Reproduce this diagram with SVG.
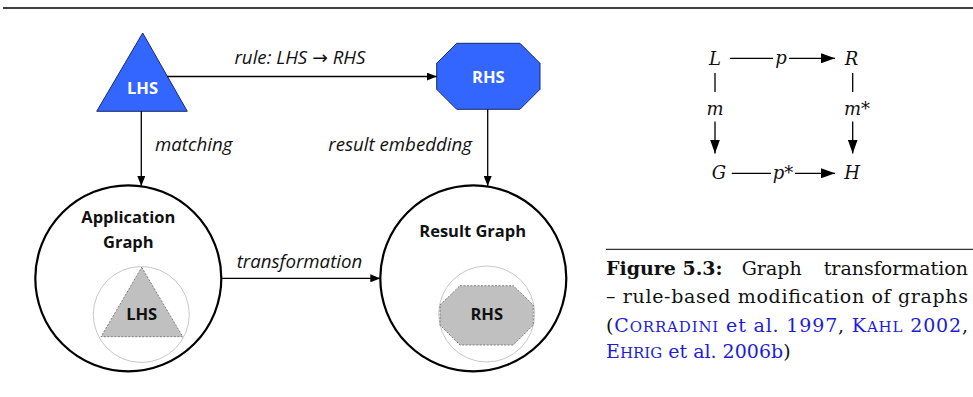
<svg xmlns="http://www.w3.org/2000/svg" width="973" height="397" viewBox="0 0 973 397">
<defs>
<style>
.edge{stroke:#000;stroke-width:1.3;fill:none}
.lbl{font-family:"Open Sans","Noto Sans",sans-serif;font-style:italic;font-size:18.7px;fill:#111}
.arr{font-family:"DejaVu Sans",sans-serif;font-style:normal}
.wb{font-family:"Open Sans","Noto Sans",sans-serif;font-weight:bold;font-size:16.5px;fill:#fff}
.bb{font-family:"Open Sans","Noto Sans",sans-serif;font-weight:bold;font-size:16.5px;fill:#111}
.blue{fill:#3366ff;stroke:#1a2a66;stroke-width:1}
.gray{fill:#c0c0c0;stroke:#666;stroke-width:0.8;stroke-dasharray:2 1.5}
.big{fill:#fff;stroke:#000;stroke-width:2.2}
.ring{fill:none;stroke:#c8c8c8;stroke-width:1}
.math{font-family:"DejaVu Serif","Liberation Serif",serif;font-style:italic;font-size:18px;fill:#111}
.cap{font-family:"DejaVu Serif","Liberation Serif",serif;font-size:19px;fill:#111}
.sc{font-size:15px}
.cite{fill:#1c1cd9}
</style>
<marker id="ah" viewBox="0 0 10 8" refX="10" refY="4" markerWidth="10" markerHeight="8" markerUnits="userSpaceOnUse" orient="auto">
<path d="M0,0 L10,4 L0,8 Z" fill="#000"/>
</marker>
<marker id="mh" viewBox="0 0 14 10" refX="14" refY="5" markerWidth="14" markerHeight="10" markerUnits="userSpaceOnUse" orient="auto">
<path d="M0,0 L14,5 L0,10 Z" fill="#000"/>
</marker>
</defs>

<line x1="3" y1="8" x2="973" y2="8" stroke="#000" stroke-width="1.4"/>

<g id="lhs">
<polygon class="blue" points="142.7,33 187.3,111.3 96.7,111.3"/>
<text class="wb" x="142.5" y="93.5" text-anchor="middle">LHS</text>
</g>

<g id="rhs">
<polygon class="blue" points="456.7,43.3 520,43.3 540,63.3 540,89.3 520,109.3 456.7,109.3 436.7,89.3 436.7,63.3"/>
<text class="wb" x="488.3" y="82.5" text-anchor="middle">RHS</text>
</g>

<g id="application-graph">
<circle class="big" cx="128.3" cy="278.3" r="93"/>
<text class="bb" x="128.3" y="223" text-anchor="middle">Application</text>
<text class="bb" x="128.3" y="248" text-anchor="middle">Graph</text>
<circle class="ring" cx="141.3" cy="314.5" r="48"/>
<polygon class="gray" points="141.7,267.3 182.7,336.7 101,336.7"/>
<text class="bb" x="141.7" y="320" text-anchor="middle">LHS</text>
</g>

<g id="result-graph">
<circle class="big" cx="473.3" cy="278.3" r="93"/>
<text class="bb" x="472.7" y="236.5" text-anchor="middle">Result Graph</text>
<circle class="ring" cx="486.7" cy="314" r="48"/>
<polygon class="gray" points="460,285.7 513.3,285.7 533.3,305 533.3,325 513.3,345 460,345 440,325 440,305"/>
<text class="bb" x="486.7" y="320" text-anchor="middle">RHS</text>
</g>

<g id="connectors">
<line class="edge" x1="167" y1="76.5" x2="436.7" y2="76.5" marker-end="url(#ah)"/>
<line class="edge" x1="141.3" y1="111.3" x2="141.3" y2="186" marker-end="url(#ah)"/>
<line class="edge" x1="487.7" y1="109.3" x2="487.7" y2="186" marker-end="url(#ah)"/>
<line class="edge" x1="221.5" y1="278.3" x2="380.3" y2="278.3" marker-end="url(#ah)"/>
<text class="lbl" x="300" y="64" text-anchor="middle">rule: LHS <tspan class="arr">→</tspan> RHS</text>
<text class="lbl" x="155" y="150.5">matching</text>
<text class="lbl" x="472" y="150.5" text-anchor="end">result embedding</text>
<text class="lbl" x="299.5" y="268" text-anchor="middle">transformation</text>
</g>

<g id="math-square">
<text class="math" x="715" y="65" text-anchor="middle">L</text>
<text class="math" x="851.5" y="65" text-anchor="middle">R</text>
<text class="math" x="719" y="178.5" text-anchor="middle">G</text>
<text class="math" x="852" y="178.5" text-anchor="middle">H</text>
<line class="edge" x1="730" y1="58.3" x2="773" y2="58.3"/>
<text class="math" x="781" y="63.5" text-anchor="middle">p</text>
<line class="edge" x1="789" y1="58.3" x2="835" y2="58.3" marker-end="url(#mh)"/>
<line class="edge" x1="715" y1="73" x2="715" y2="92"/>
<text class="math" x="715" y="114.5" text-anchor="middle">m</text>
<line class="edge" x1="715" y1="121.5" x2="715" y2="153.5" marker-end="url(#mh)"/>
<line class="edge" x1="852.7" y1="73" x2="852.7" y2="92"/>
<text class="math" x="857" y="114.5" text-anchor="middle">m*</text>
<line class="edge" x1="852.7" y1="121.5" x2="852.7" y2="153.5" marker-end="url(#mh)"/>
<line class="edge" x1="731.7" y1="173.3" x2="771" y2="173.3"/>
<text class="math" x="783" y="178.5" text-anchor="middle">p*</text>
<line class="edge" x1="795" y1="173.3" x2="835" y2="173.3" marker-end="url(#mh)"/>
</g>

<g id="caption">
<line x1="606" y1="249.3" x2="973" y2="249.3" stroke="#000" stroke-width="1"/>
<text class="cap" x="606" y="275" font-weight="bold" font-size="17.5px">Figure 5.3:</text>
<text class="cap" x="741.7" y="275">Graph</text>
<text class="cap" x="968" y="275" text-anchor="end">transformation</text>
<text class="cap" x="606" y="303.3" textLength="362" lengthAdjust="spacing">– rule-based modification of graphs</text>
<text class="cap" x="606" y="331.7" textLength="362" lengthAdjust="spacing">(<tspan class="cite">C<tspan class="sc">ORRADINI</tspan> et al. 1997</tspan>, <tspan class="cite">K<tspan class="sc">AHL</tspan> 2002</tspan>,</text>
<text class="cap" x="606" y="358"><tspan class="cite">E<tspan class="sc">HRIG</tspan> et al. 2006b</tspan>)</text>
</g>
</svg>
